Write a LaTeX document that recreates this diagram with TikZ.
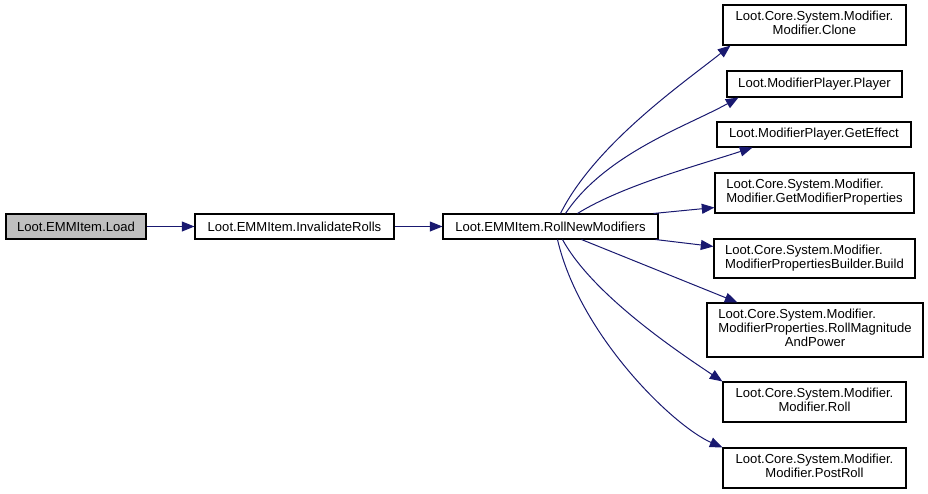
\documentclass[tikz,border=0pt]{standalone}
\usepackage{fontspec}
\setmainfont{Liberation Sans}
\usetikzlibrary{arrows.meta, calc}
\definecolor{edgeNavy}{HTML}{191970}
\definecolor{rootGrey}{HTML}{BFBFBF}
\newcommand{\fnlines}[2]{\begin{tabular}{@{}l@{}}#1\\\multicolumn{1}{@{}c@{}}{#2}\end{tabular}}
\newcommand{\fnlinesthree}[3]{\begin{tabular}{@{}l@{}}#1\\#2\\\multicolumn{1}{@{}c@{}}{#3}\end{tabular}}
\tikzset{
  fnbox/.style={draw=black, line width=0.8pt, fill=white, inner sep=0pt,
                font=\fontsize{9.8}{10.5}\selectfont},
  rootbox/.style={fnbox, fill=rootGrey},
  call/.style={draw=edgeNavy, line width=0.75pt, -{Triangle[length=9.5pt, width=7.5pt]}},
}
\begin{document}
\begin{tikzpicture}[x=0.75pt, y=-0.75pt]
\useasboundingbox (0,0) rectangle (928,493);
\node[rootbox, minimum width=105pt, minimum height=18.75pt] (load) at (76,226.5) {Loot.EMMItem.Load};
\node[fnbox, minimum width=149.25pt, minimum height=18.75pt] (invalidate) at (294.5,226.5) {Loot.EMMItem.InvalidateRolls};
\node[fnbox, minimum width=161.25pt, minimum height=18.75pt] (rollnew) at (550.5,226.5) {Loot.EMMItem.RollNewModifiers};
\node[fnbox, minimum width=137.25pt, minimum height=30pt] (clone) at (814.5,25) {\fnlines{Loot.Core.System.Modifier.}{Modifier.Clone}};
\node[fnbox, minimum width=131.25pt, minimum height=19.5pt] (player) at (814.5,84) {Loot.ModifierPlayer.Player};
\node[fnbox, minimum width=145.5pt, minimum height=18.75pt] (geteffect) at (814,134.5) {Loot.ModifierPlayer.GetEffect};
\node[fnbox, minimum width=149.25pt, minimum height=30pt] (getprops) at (814.5,193) {\fnlines{Loot.Core.System.Modifier.}{Modifier.GetModifierProperties}};
\node[fnbox, minimum width=150.75pt, minimum height=29.25pt] (build) at (814.5,258.5) {\fnlines{Loot.Core.System.Modifier.}{ModifierPropertiesBuilder.Build}};
\node[fnbox, minimum width=162pt, minimum height=40.5pt] (rollmag) at (815,330) {\fnlinesthree{Loot.Core.System.Modifier.}{ModifierProperties.RollMagnitude}{AndPower}};
\node[fnbox, minimum width=137.25pt, minimum height=30pt] (roll) at (814.5,402) {\fnlines{Loot.Core.System.Modifier.}{Modifier.Roll}};
\node[fnbox, minimum width=137.25pt, minimum height=30pt] (postroll) at (814.5,468) {\fnlines{Loot.Core.System.Modifier.}{Modifier.PostRoll}};
\draw[call] (load) -- (invalidate);
\draw[call] (invalidate) -- (rollnew);
\draw[call] ($(rollnew.north)+(10,0)$) .. controls +(35,-70) and +(-45,36) .. ($(clone.south west)+(8,0)$);
\draw[call] ($(rollnew.north)+(15,0)$) .. controls +(40,-60) and +(-50,28) .. ($(player.south west)+(12,0)$);
\draw[call] ($(rollnew.north)+(27,0)$) .. controls +(45,-28) and +(-55,18) .. ($(geteffect.south west)+(36,0)$);
\draw[call] ($(rollnew.north east)+(-5,0)$) -- ($(getprops.south west)+(0,-6)$);
\draw[call] ($(rollnew.south east)+(-3,0)$) -- ($(build.north west)+(0,8)$);
\draw[call] ($(rollnew.south)+(31,0)$) -- ($(rollmag.north west)+(31,0)$);
\draw[call] ($(rollnew.south)+(12,0)$) .. controls +(30,55) and +(-45,-30) .. (roll.north west);
\draw[call] ($(rollnew.south)+(7,0)$) .. controls +(22,95) and +(-50,-22) .. (postroll.north west);
\end{tikzpicture}
\end{document}
